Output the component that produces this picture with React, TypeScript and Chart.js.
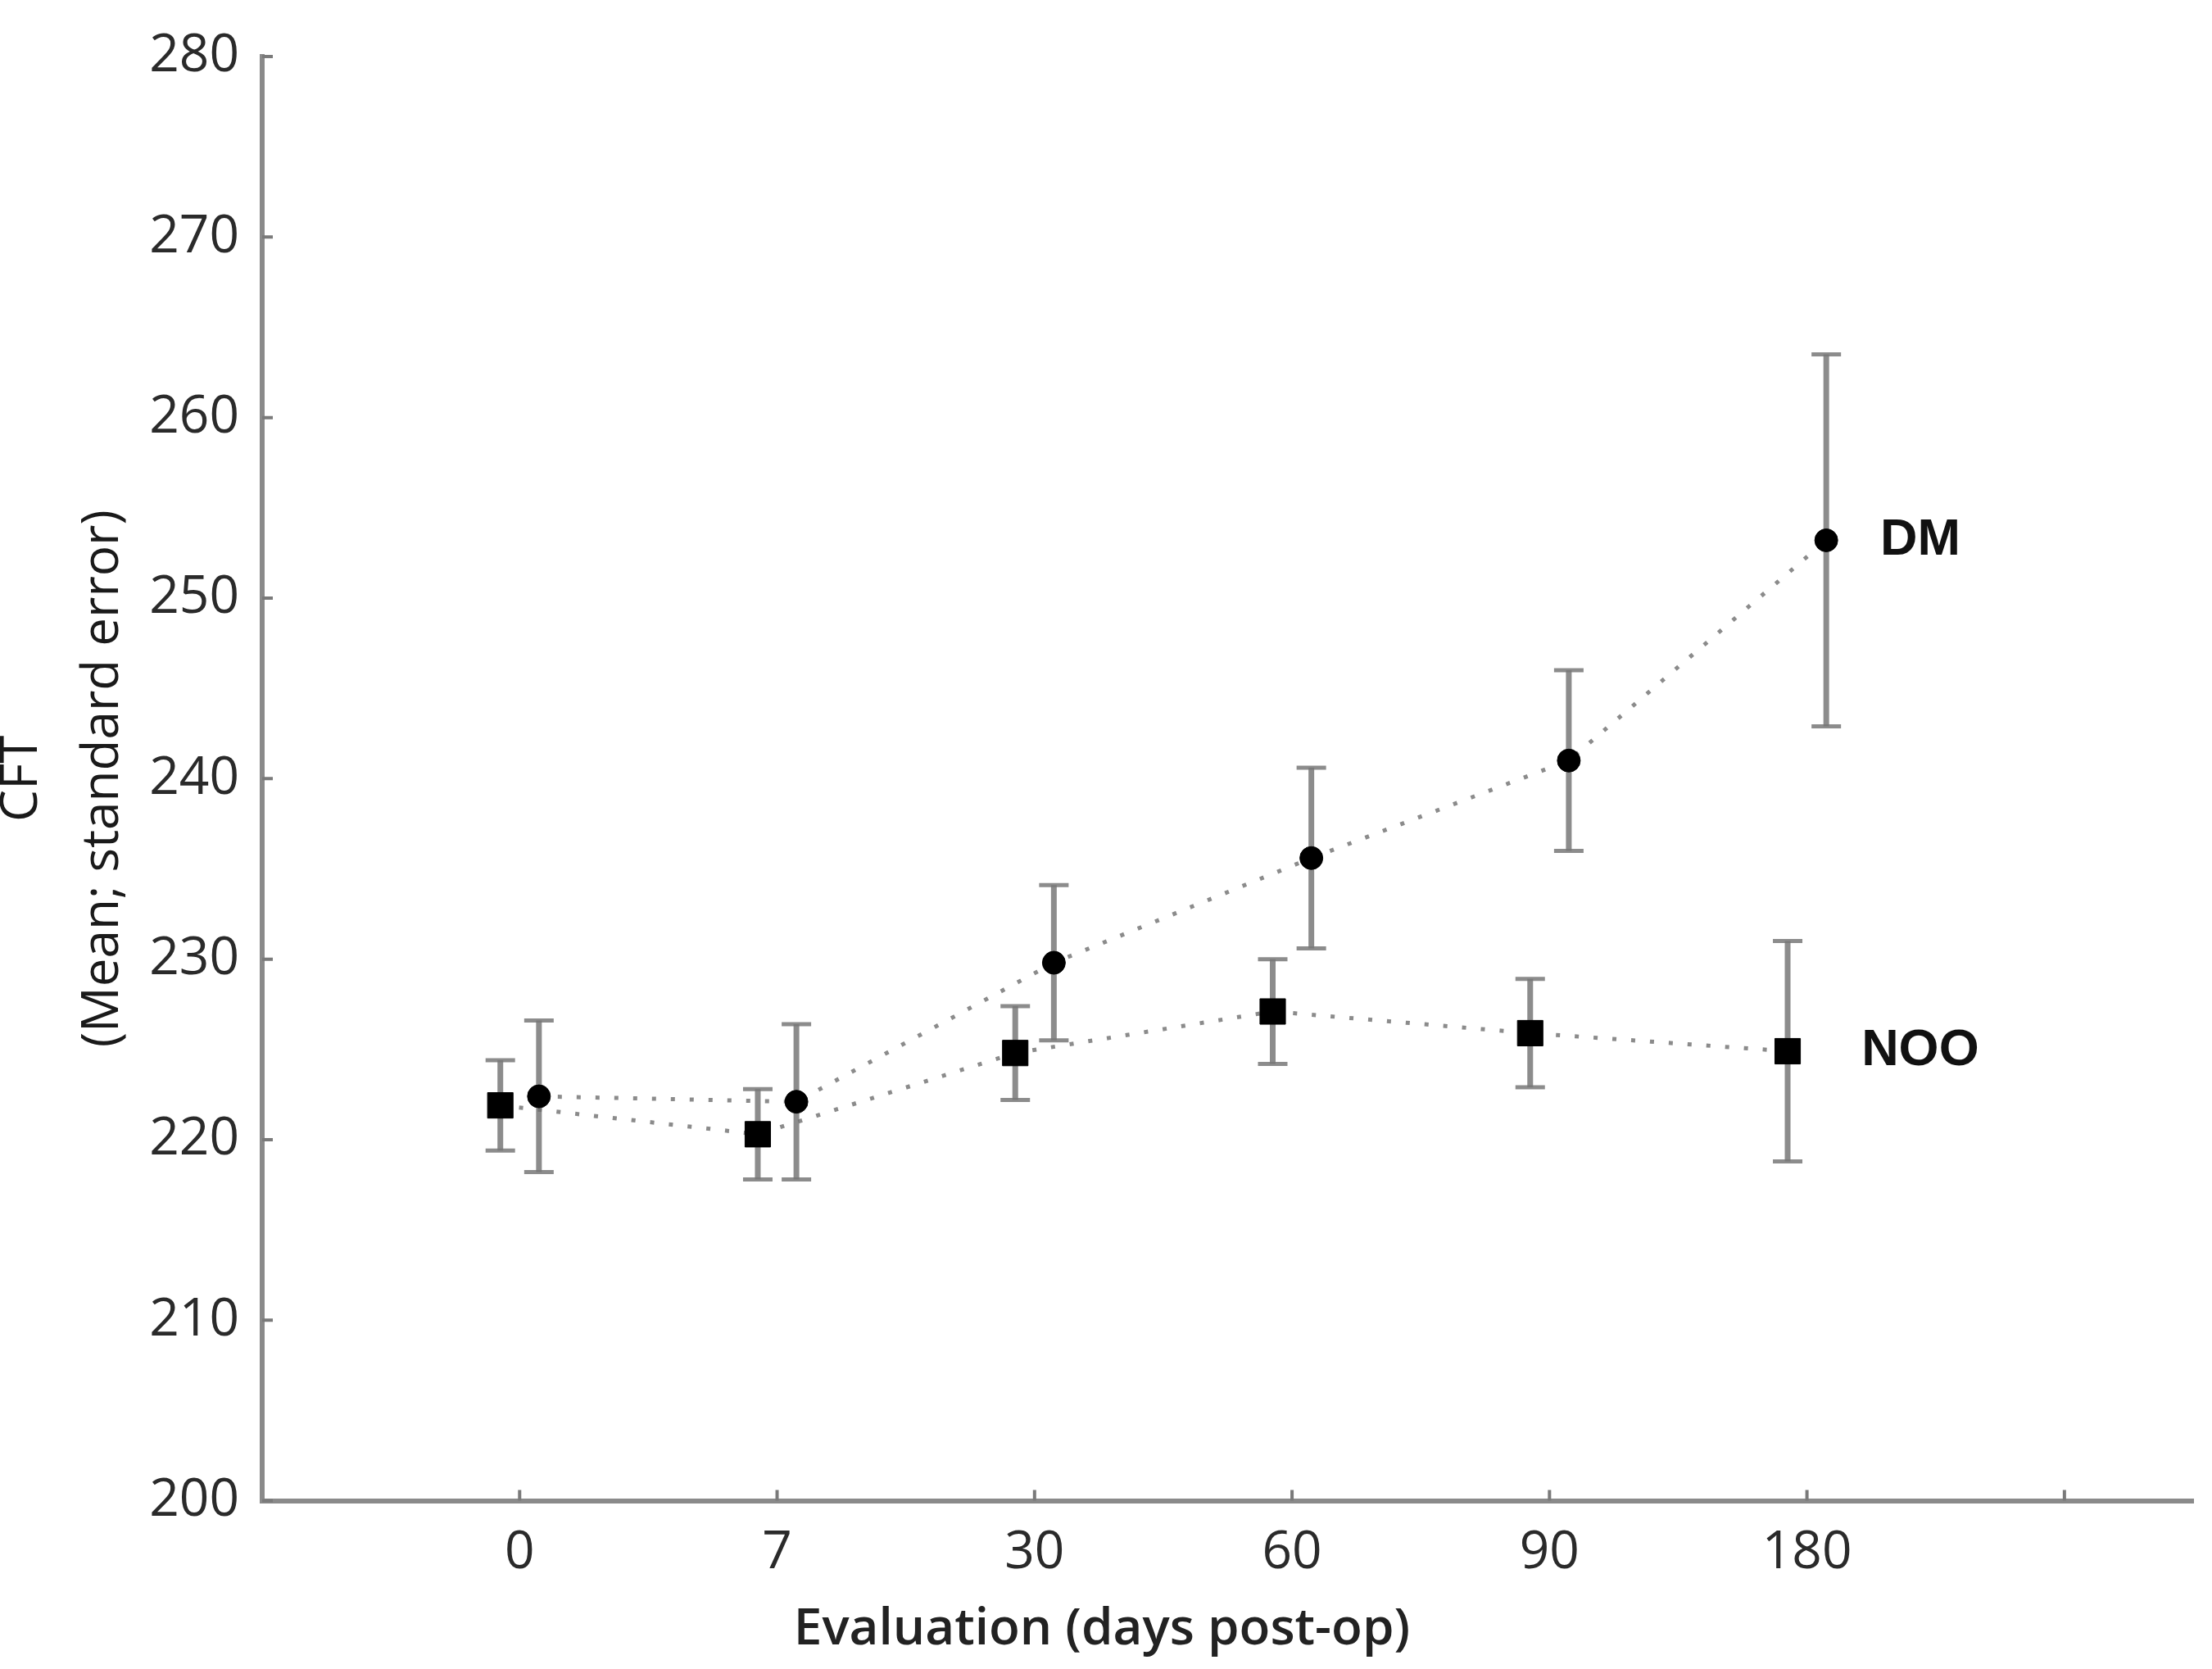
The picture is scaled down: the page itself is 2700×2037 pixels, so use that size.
import React, { useEffect, useRef } from 'react';
import { Chart, registerables } from 'chart.js';

Chart.register(...registerables);

const days = ['0', '7', '30', '60', '90', '180'];
const dmMean = [222.4, 222.1, 229.8, 235.6, 241.0, 253.2];
const dmSE = [4.2, 4.3, 4.3, 5.0, 5.0, 10.3];
const nooMean = [221.9, 220.3, 224.8, 227.1, 225.9, 224.9];
const nooSE = [2.5, 2.5, 2.6, 2.9, 3.0, 6.1];
const yTickValues = [200, 210, 220, 230, 240, 250, 260, 270, 280];
const xTickSlots = [1, 2, 3, 4, 5, 6, 7];
const seriesNames = ['DM', 'NOO'];

const OFFSET = 0.075;
const LABEL_X = 6.44;

export default function App() {
  const ref = useRef<HTMLCanvasElement>(null);

  useEffect(() => {
    if (!ref.current) return;

    const seLists = [dmSE, nooSE];

    const errorBars = {
      id: 'errorBars',
      beforeDatasetsDraw(chart: any) {
        const { ctx, scales } = chart;
        const x = scales.x;
        const y = scales.y;
        ctx.save();
        chart.data.datasets.forEach((ds: any, di: number) => {
          const se = seLists[di];
          ds.data.forEach((p: any, i: number) => {
            const px = x.getPixelForValue(p.x);
            const top = y.getPixelForValue(p.y + se[i]);
            const bot = y.getPixelForValue(p.y - se[i]);
            ctx.strokeStyle = 'rgba(120,120,120,0.85)';
            ctx.lineWidth = 7;
            ctx.beginPath();
            ctx.moveTo(px, top);
            ctx.lineTo(px, bot);
            ctx.stroke();
            ctx.lineWidth = 5;
            ctx.beginPath();
            ctx.moveTo(px - 18, top);
            ctx.lineTo(px + 18, top);
            ctx.moveTo(px - 18, bot);
            ctx.lineTo(px + 18, bot);
            ctx.stroke();
          });
        });
        ctx.restore();
      },
    };

    const tickMarks = {
      id: 'tickMarks',
      afterDraw(chart: any) {
        const { ctx, scales } = chart;
        const x = scales.x;
        const y = scales.y;
        ctx.save();
        ctx.strokeStyle = '#7a7a7a';
        ctx.lineWidth = 4;
        ctx.beginPath();
        x.ticks.forEach((t: any) => {
          const px = x.getPixelForValue(t.value);
          ctx.moveTo(px, y.bottom);
          ctx.lineTo(px, y.bottom - 13);
        });
        y.ticks.forEach((t: any) => {
          const py = y.getPixelForValue(t.value);
          ctx.moveTo(x.left, py);
          ctx.lineTo(x.left + 13, py);
        });
        ctx.stroke();
        ctx.restore();
      },
    };

    const seriesLabels = {
      id: 'seriesLabels',
      afterDatasetsDraw(chart: any) {
        const { ctx, scales } = chart;
        const x = scales.x;
        const y = scales.y;
        ctx.save();
        ctx.fillStyle = '#111';
        ctx.font = "bold 63px 'Liberation Sans', Arial, sans-serif";
        ctx.textAlign = 'center';
        ctx.textBaseline = 'middle';
        const lasts = [dmMean[dmMean.length - 1], nooMean[nooMean.length - 1]];
        seriesNames.forEach((name, i) => {
          ctx.fillText(name, x.getPixelForValue(LABEL_X), y.getPixelForValue(lasts[i]));
        });
        ctx.restore();
      },
    };

    const chart = new Chart(ref.current, {
      type: 'line',
      data: {
        datasets: [
          {
            label: seriesNames[0],
            data: dmMean.map((v, i) => ({ x: i + 1 + OFFSET, y: v })),
            borderColor: 'rgba(110,110,110,0.8)',
            borderWidth: 5,
            borderDash: [5, 18],
            pointStyle: 'circle',
            pointRadius: 14,
            pointBackgroundColor: '#000',
            pointBorderColor: '#000',
            pointBorderWidth: 1,
            fill: false,
            tension: 0,
          },
          {
            label: seriesNames[1],
            data: nooMean.map((v, i) => ({ x: i + 1 - OFFSET, y: v })),
            borderColor: 'rgba(110,110,110,0.8)',
            borderWidth: 5,
            borderDash: [5, 18],
            pointStyle: 'rect',
            pointRadius: 22,
            pointBackgroundColor: '#000',
            pointBorderColor: '#000',
            pointBorderWidth: 1,
            fill: false,
            tension: 0,
          },
        ],
      },
      options: {
        animation: false,
        responsive: true,
        maintainAspectRatio: false,
        devicePixelRatio: 1,
        layout: { padding: { left: 0, top: 69, right: 10, bottom: 0 } },
        plugins: {
          legend: { display: false },
          tooltip: { enabled: false },
          title: {
            display: true,
            position: 'bottom',
            align: 'center',
            text: 'Evaluation (days post-op)',
            color: '#222',
            font: { family: "'Open Sans', sans-serif", size: 62, weight: '600', lineHeight: 1.2 },
            padding: { top: 0, bottom: 10 },
          },
        },
        scales: {
          x: {
            type: 'linear',
            min: 0,
            max: 7.5,
            afterBuildTicks: (scale: any) => {
              scale.ticks = xTickSlots.map((v) => ({ value: v }));
            },
            afterFit: (scale: any) => {
              scale.height = 121;
            },
            grid: { display: false, drawTicks: false, tickLength: 0 },
            border: { display: true, color: '#8a8a8a', width: 6 },
            ticks: {
              autoSkip: false,
              maxRotation: 0,
              padding: 26,
              color: '#2a2a2a',
              font: { family: "'Open Sans', sans-serif", size: 64 },
              callback: (v: any) => days[Number(v) - 1] ?? '',
            },
          },
          y: {
            type: 'linear',
            min: 200,
            max: 280,
            afterBuildTicks: (scale: any) => {
              scale.ticks = yTickValues.map((v) => ({ value: v }));
            },
            afterFit: (scale: any) => {
              scale.width = 320;
            },
            grid: { display: false, drawTicks: false, tickLength: 0 },
            border: { display: true, color: '#8a8a8a', width: 6 },
            ticks: {
              padding: 28,
              color: '#2a2a2a',
              font: { family: "'Open Sans', sans-serif", size: 64 },
            },
            title: {
              display: true,
              text: ['CFT', '(Mean; standard error)'],
              color: '#1a1a1a',
              font: { family: "'Open Sans', sans-serif", size: 62, lineHeight: 1.6 },
              padding: { top: -22, bottom: 0 },
            },
          },
        },
      },
      plugins: [errorBars, tickMarks, seriesLabels],
    } as any);

    return () => chart.destroy();
  }, []);

  return (
    <div style={{ position: 'fixed', left: 0, top: 0, width: '2700px', height: '2037px', background: '#fff' }}>
      <canvas ref={ref} />
    </div>
  );
}
